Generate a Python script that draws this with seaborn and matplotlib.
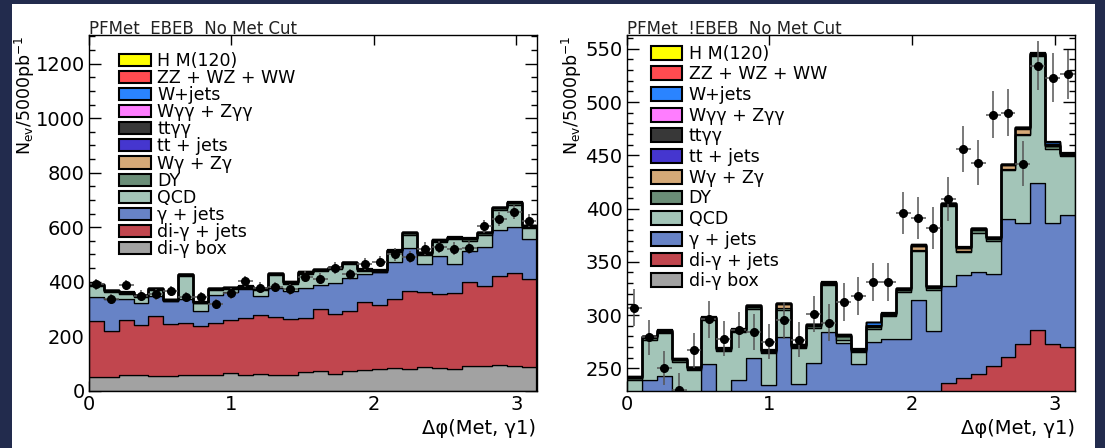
import numpy as np
import pandas as pd
import matplotlib
matplotlib.use("Agg")
import matplotlib.pyplot as plt
from matplotlib.patches import Patch, Rectangle
from matplotlib.ticker import MultipleLocator
import seaborn as sns

# ---------------------------------------------------------------- binning
N_BINS = 30
edges = np.linspace(0.0, np.pi, N_BINS + 1)
centers = 0.5 * (edges[:-1] + edges[1:])
half_width = 0.5 * (edges[1] - edges[0])

# ---------------------------------------------------------------- processes (legend order = top of stack first)
processes = ["H M(120)", "ZZ + WZ + WW", "W+jets", "Wγγ + Zγγ", "ttγγ", "tt + jets",
             "Wγ + Zγ", "DY", "QCD", "γ + jets", "di-γ + jets", "di-γ box"]
colors = ["#ffff00", "#ff4b50", "#2a84ff", "#ff7dff", "#383838", "#4536cf",
          "#d5a977", "#6a8d77", "#a3c5b8", "#6783c6", "#c1464e", "#a2a2a2"]

# ---------------------------------------------------------------- EBEB category (events per bin)
ebeb_higgs = [1.0, 0.9, 1.0, 1.1, 1.0, 0.9, 1.0, 1.1, 1.0, 1.0, 1.1, 1.0, 1.0, 1.1, 1.0,
              1.0, 1.1, 1.0, 1.1, 1.0, 1.1, 1.2, 1.1, 1.2, 1.1, 1.2, 1.2, 1.3, 1.3, 1.2]
ebeb_diboson = [0.5, 0.4, 0.5, 0.5, 0.4, 0.5, 0.5, 0.4, 0.5, 0.5, 0.5, 0.4, 0.5, 0.5, 0.5,
                0.5, 0.4, 0.5, 0.5, 0.5, 0.5, 0.5, 0.5, 0.5, 0.6, 0.5, 0.5, 0.6, 0.6, 0.5]
ebeb_wjets = [0.5, 0.4, 0.5, 0.4, 0.5, 0.4, 0.5, 0.4, 0.5, 0.5, 0.5, 0.4, 0.5, 0.5, 0.5,
              0.5, 0.5, 0.5, 0.5, 0.5, 0.5, 0.6, 0.5, 0.6, 0.5, 0.6, 0.6, 0.6, 0.6, 0.5]
ebeb_vgg = [0.3, 0.3, 0.3, 0.3, 0.3, 0.3, 0.3, 0.3, 0.3, 0.3, 0.3, 0.3, 0.3, 0.3, 0.3,
            0.3, 0.3, 0.3, 0.3, 0.3, 0.3, 0.3, 0.3, 0.3, 0.3, 0.3, 0.3, 0.3, 0.3, 0.3]
ebeb_ttgg = [1.0, 0.9, 1.0, 1.0, 1.1, 0.9, 1.0, 1.0, 1.0, 1.1, 1.0, 1.0, 1.0, 1.1, 1.0,
             1.1, 1.0, 1.0, 1.1, 1.0, 1.1, 1.0, 1.1, 1.0, 1.1, 1.2, 1.1, 1.2, 1.2, 1.1]
ebeb_ttjets = [0.5, 0.5, 0.5, 0.5, 0.5, 0.5, 0.5, 0.5, 0.5, 0.5, 0.5, 0.5, 0.5, 0.5, 0.5,
               0.5, 0.5, 0.5, 0.5, 0.5, 0.5, 0.5, 0.5, 0.5, 0.5, 0.5, 0.5, 0.5, 0.5, 0.5]
ebeb_vg = [2.1, 1.8, 2.0, 1.9, 2.2, 1.7, 2.0, 1.9, 2.1, 2.0, 2.2, 1.9, 2.0, 2.1, 1.8,
           2.0, 2.2, 1.9, 2.1, 2.0, 1.9, 2.2, 2.0, 2.1, 1.8, 2.0, 2.1, 1.9, 2.2, 2.0]
ebeb_dy = [3, 2, 3, 2, 3, 2, 3, 2, 3, 3, 3, 3, 3, 3, 4,
           4, 3, 4, 4, 3, 4, 4, 4, 4, 5, 5, 5, 5, 6, 5]
ebeb_qcd = [39, 25, 19, 23, 22, 1, 83, 27, 18, 10, 3, 22, 46, 27, 51,
            52, 50, 52, 10, 1, 36, 48, 33, 51, 91, 38, 44, 74, 83, 39]
ebeb_gjets = [87, 120, 76, 82, 72, 83, 88, 55, 102, 102, 106, 71, 106, 104, 111,
              85, 113, 120, 104, 119, 136, 160, 104, 139, 105, 114, 144, 169, 169, 148]
ebeb_diphoton_jets = [205, 169, 204, 182, 221, 191, 193, 179, 191, 196, 209, 214, 214, 204, 197,
                      227, 221, 218, 249, 236, 255, 286, 276, 274, 280, 310, 295, 326, 338, 322]
ebeb_diphoton_box = [52, 49, 57, 58, 54, 54, 57, 59, 58, 64, 59, 62, 58, 58, 70,
                     74, 62, 74, 76, 80, 82, 79, 86, 82, 79, 89, 89, 95, 92, 88]
ebeb_data = [390, 337, 388, 349, 353, 365, 344, 343, 318, 357, 402, 378, 381, 372, 418,
             411, 451, 427, 466, 474, 500, 491, 521, 528, 521, 525, 603, 630, 654, 624]

# ---------------------------------------------------------------- !EBEB category (events per bin)
nebeb_higgs = [0.3, 0.3, 0.3, 0.3, 0.3, 0.3, 0.3, 0.3, 0.3, 0.3, 0.3, 0.3, 0.3, 0.3, 0.3,
               0.3, 0.3, 0.3, 0.3, 0.3, 0.3, 0.3, 0.3, 0.3, 0.3, 0.3, 0.3, 0.3, 0.3, 0.3]
nebeb_diboson = [0.2, 0.2, 0.2, 0.2, 0.2, 0.2, 0.2, 0.2, 0.2, 0.2, 0.2, 0.2, 0.2, 0.2, 0.2,
                 0.2, 0.2, 0.2, 0.2, 0.2, 0.2, 0.2, 0.2, 0.2, 0.2, 0.2, 0.2, 0.2, 0.2, 0.2]
nebeb_wjets = [0, 0, 0, 0, 0, 0, 0, 0, 0, 0, 0, 0, 0, 0, 0,
               0, 2.5, 0, 0, 0, 0, 0, 0, 0, 0, 0, 0, 0, 2.5, 0]
nebeb_vgg = [0.1, 0.1, 0.1, 0.1, 0.1, 0.1, 0.1, 0.1, 0.1, 0.1, 0.1, 0.1, 0.1, 0.1, 0.1,
             0.1, 0.1, 0.1, 0.1, 0.1, 0.1, 0.1, 0.1, 0.1, 0.1, 0.1, 0.1, 0.1, 0.1, 0.1]
nebeb_ttgg = [0.8, 0.8, 0.8, 0.8, 0.8, 0.8, 0.8, 0.8, 0.8, 0.8, 0.8, 0.8, 0.8, 0.8, 0.8,
              0.8, 0.8, 0.8, 0.8, 0.8, 0.8, 0.8, 0.8, 0.8, 0.8, 0.8, 0.8, 0.8, 0.8, 0.8]
nebeb_ttjets = [0.3, 0.3, 0.3, 0.3, 0.3, 0.3, 0.3, 0.3, 0.3, 0.3, 0.3, 0.3, 0.3, 0.3, 0.3,
                0.3, 0.3, 0.3, 0.3, 0.3, 0.3, 0.3, 0.3, 0.3, 0.3, 0.3, 0.3, 0.3, 0.3, 0.3]
nebeb_vg = [0.5, 0.5, 0.5, 0.5, 0.5, 0.5, 0.5, 0.5, 0.5, 0.5, 3.0, 0.5, 0.5, 0.5, 0.5,
            0.5, 0.5, 0.5, 0.5, 3.5, 0.5, 0.5, 2.5, 0.5, 0.5, 3.0, 4.5, 0.5, 0.5, 0.5]
nebeb_dy = [1.5, 1.5, 1.5, 1.5, 1.5, 1.5, 1.5, 1.5, 1.5, 1.5, 2.0, 1.5, 1.5, 1.5, 3.0,
            1.5, 2.0, 1.5, 1.5, 1.5, 1.5, 1.5, 1.5, 3.0, 1.5, 1.5, 1.5, 1.5, 2.5, 1.5]
nebeb_qcd = [14, 38, 40, 34, 28, 41, 42, 45, 46, 30, 26, 34, 33, 44, 3,
             11, 12, 21, 44, 46, 39, 75, 21, 37, 31, 46, 83, 119, 70, 55]
nebeb_gjets = [75, 91, 91, 67, 67, 96, 64, 77, 95, 66, 109, 62, 79, 104, 90,
               66, 80, 78, 70, 99, 61, 91, 97, 95, 87, 129, 113, 138, 113, 124]
nebeb_diphoton_jets = [132, 131, 133, 137, 133, 139, 139, 142, 143, 147, 147, 151, 152, 157, 159,
                       164, 169, 173, 182, 187, 195, 206, 212, 214, 220, 228, 239, 250, 238, 236]
nebeb_diphoton_box = [18, 17, 19, 18, 20, 19, 21, 20, 22, 21, 23, 22, 24, 23, 25,
                      24, 26, 27, 26, 28, 29, 30, 29, 31, 32, 33, 34, 36, 35, 34]
nebeb_data = [307, 279, 250, 230, 267, 296, 278, 286, 284, 275, 295, 277, 301, 293, 312,
              318, 331, 331, 396, 391, 382, 409, 456, 443, 488, 490, 442, 534, 523, 526]

ebeb_components = [ebeb_higgs, ebeb_diboson, ebeb_wjets, ebeb_vgg, ebeb_ttgg, ebeb_ttjets,
                   ebeb_vg, ebeb_dy, ebeb_qcd, ebeb_gjets, ebeb_diphoton_jets, ebeb_diphoton_box]
nebeb_components = [nebeb_higgs, nebeb_diboson, nebeb_wjets, nebeb_vgg, nebeb_ttgg, nebeb_ttjets,
                    nebeb_vg, nebeb_dy, nebeb_qcd, nebeb_gjets, nebeb_diphoton_jets, nebeb_diphoton_box]


def long_frame(components):
    parts = [pd.DataFrame({"dphi": centers, "events": np.asarray(vals, float), "process": name})
             for name, vals in zip(processes, components)]
    return pd.concat(parts, ignore_index=True)


# ---------------------------------------------------------------- style
sns.set_theme(style="ticks")
plt.rcParams["font.family"] = ["DejaVu Sans"]
plt.rcParams["axes.edgecolor"] = "black"
plt.rcParams["axes.linewidth"] = 1.0
plt.rcParams["text.color"] = "black"
plt.rcParams["xtick.color"] = "black"
plt.rcParams["ytick.color"] = "black"

W, H = 1105, 448
fig = plt.figure(figsize=(W / 100, H / 100), dpi=100, facecolor="#222b4d")
fig.add_artist(Rectangle((12 / W, 0), (1095 - 12) / W, (H - 4) / H, transform=fig.transFigure,
                         facecolor="white", edgecolor="none", zorder=-5))

axL = fig.add_axes([88.8 / W, (H - 390.7) / H, 447.7 / W, 355.7 / H])
axR = fig.add_axes([626.7 / W, (H - 390.7) / H, 448.6 / W, 355.7 / H])

palette = dict(zip(processes, colors))
bin_list = [float(e) for e in edges]
panels = [
    (axL, ebeb_components, ebeb_data, "PFMet  EBEB  No Met Cut", (0, 1305), 200, 50, 25,
     119.3, 51.8, 0.69, -0.05),
    (axR, nebeb_components, nebeb_data, "PFMet  !EBEB  No Met Cut", (229, 563), 50, 10, 572,
     650.7, 44.6, 0.85, 0.155),
]

for (ax, comps, data, title, ylim, major, minor, ylab_x,
     leg_x, leg_top, handle_h, lab_space) in panels:
    ax.set_facecolor("white")
    sns.histplot(data=long_frame(comps), x="dphi", weights="events", hue="process",
                 hue_order=processes, palette=palette, bins=bin_list, multiple="stack",
                 element="step", fill=True, alpha=1, edgecolor="black", linewidth=0.9,
                 legend=False, ax=ax, zorder=2)

    data = np.asarray(data, float)
    ax.errorbar(centers, data, yerr=np.sqrt(data), xerr=half_width, fmt="o", color="black",
                ms=5.5, ecolor="#555555", elinewidth=1.1, capsize=0, zorder=6)

    ax.set_xlim(0, np.pi)
    ax.set_ylim(*ylim)
    ax.xaxis.set_major_locator(MultipleLocator(1))
    ax.yaxis.set_major_locator(MultipleLocator(major))
    ax.yaxis.set_minor_locator(MultipleLocator(minor))
    ax.tick_params(which="both", direction="in", top=True, right=True, width=1.0,
                   labelsize=14, pad=3)
    ax.tick_params(axis="y", which="major", length=8.5)
    ax.tick_params(axis="y", which="minor", length=4.5)
    ax.tick_params(axis="x", which="major", length=7.5)
    for sp in ax.spines.values():
        sp.set_linewidth(1.0)
        sp.set_color("black")
        sp.set_zorder(8)
    ax.set_xlabel("")
    ax.set_ylabel("")

    ax.text(0.0, 1.004, title, transform=ax.transAxes, ha="left", va="baseline",
            fontsize=12, color="#222222")
    ax.text(1.0, (390.7 - 428) / 355.7, "Δφ(Met, γ1)", transform=ax.transAxes,
            ha="right", va="center", fontsize=14)
    fig.text(ylab_x / W, 1 - 36 / H, r"$\mathregular{N_{ev}/5000pb^{-1}}$", rotation=90,
             ha="center", va="top", fontsize=12.5)

    handles = [Patch(facecolor=c, edgecolor="black", linewidth=1.5) for c in colors]
    ax.legend(handles, processes, loc="upper left", bbox_to_anchor=(leg_x / W, 1 - leg_top / H),
              bbox_transform=fig.transFigure, frameon=False, fontsize=12.5,
              handlelength=1.83, handleheight=handle_h, handletextpad=0.36,
              labelspacing=lab_space, borderpad=0, borderaxespad=0)

fig.savefig("out.png", dpi=100, facecolor=fig.get_facecolor())
